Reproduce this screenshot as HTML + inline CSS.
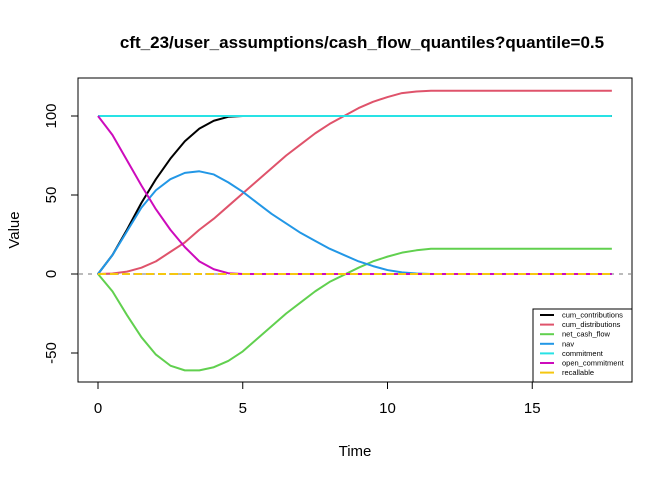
<!DOCTYPE html>
<html><head><meta charset="utf-8"><style>
body{margin:0;background:#fff;font-family:"Liberation Sans",Arial,sans-serif}
</style></head><body>
<svg id="chart" width="672" height="480" xmlns="http://www.w3.org/2000/svg" font-family="Liberation Sans, Arial, sans-serif">
<text x="362" y="48" font-size="17" font-weight="bold" text-anchor="middle">cft_23/user_assumptions/cash_flow_quantiles?quantile=0.5</text>
<rect x="78" y="78" width="554" height="304" fill="none" stroke="#000" stroke-width="1"/>
<g id="axes"></g>
<g id="series"></g>
<text x="355" y="456" font-size="15" text-anchor="middle">Time</text>
<text x="19" y="230" font-size="15" text-anchor="middle" transform="rotate(-90 19 230)">Value</text>
<g id="legend"></g>
</svg>
<script>
const times=[0,0.5,1,1.5,2,2.5,3,3.5,4,4.5,5,5.5,6,6.5,7,7.5,8,8.5,9,9.5,10,10.5,11,11.5,12,12.5,13,13.5,14,14.5,15,15.5,16,16.5,17,17.5,17.75];
const cumContributions=[0,12,28,45,60,73,84,92,97,99.5,100,100,100,100,100,100,100,100,100,100,100,100,100,100,100,100,100,100,100,100,100,100,100,100,100,100,100];
const cumDistributions=[0,0.3,1.5,4,8,14,20,28,35,43,51,59,67,75,82,89,95,100,105,109,112,114.5,115.5,116,116,116,116,116,116,116,116,116,116,116,116,116,116];
const netCashFlow=[0,-11,-26,-40,-51,-58,-61,-61,-59,-55,-49,-41,-33,-25,-18,-11,-5,-0.5,4,8,11,13.5,15,16,16,16,16,16,16,16,16,16,16,16,16,16,16];
const nav=[0,12,27,42,53,60,64,65,63,58,52,45,38,32,26,21,16,12,8,5,2.5,1,0.3,0,0,0,0,0,0,0,0,0,0,0,0,0,0];
const commitment=[100,100,100,100,100,100,100,100,100,100,100,100,100,100,100,100,100,100,100,100,100,100,100,100,100,100,100,100,100,100,100,100,100,100,100,100,100];
const openCommitment=[100,88,72,56,41,28,17,8,3,0.5,0,0,0,0,0,0,0,0,0,0,0,0,0,0,0,0,0,0,0,0,0,0,0,0,0,0,0];
const recallable=[0,0,0,0,0,0,0,0,0,0,0,0,0,0,0,0,0,0,0,0,0,0,0,0,0,0,0,0,0,0,0,0,0,0,0,0,0];
const xTicks=[0,5,10,15];
const yTicks=[-50,0,50,100];
const seriesNames=["cum_contributions","cum_distributions","net_cash_flow","nav","commitment","open_commitment","recallable"];
const seriesColors=["#000000","#DF536B","#61D04F","#2297E6","#28E2E5","#CD0BBC","#F5C710"];
const seriesData=[cumContributions,cumDistributions,netCashFlow,nav,commitment,openCommitment,recallable];

const NS="http://www.w3.org/2000/svg";
const xs=t=>98+t*28.95;
const ys=v=>274-v*1.58;
function mk(tag,attrs,parent){const e=document.createElementNS(NS,tag);for(const k in attrs)e.setAttribute(k,attrs[k]);parent.appendChild(e);return e;}
const axes=document.getElementById('axes');
xTicks.forEach(t=>{
 const l=mk('line',{x1:xs(t),x2:xs(t),y1:382,y2:389,stroke:'#000'},axes);
 
 
 const tx=mk('text',{x:xs(t),y:413,'font-size':15,'text-anchor':'middle'},axes);tx.textContent=t;
 
 
});
yTicks.forEach(v=>{
 const l=mk('line',{x1:71,x2:78,y1:ys(v),y2:ys(v),stroke:'#000'},axes);
 
 
 const tx=mk('text',{x:56,y:ys(v),'font-size':15,'text-anchor':'middle',transform:`rotate(-90 56 ${ys(v)})`},axes);tx.textContent=v;
 
 
});
const zl=mk('line',{x1:79,x2:631,y1:ys(0),y2:ys(0),stroke:'#bbb','stroke-width':2,'stroke-dasharray':'4 5'},axes);


const sg=document.getElementById('series');
seriesData.forEach((arr,i)=>{
 const pts=arr.map((v,j)=>xs(times[j])+','+ys(v)).join(' ');
 const attrs={points:pts,fill:'none',stroke:seriesColors[i],'stroke-width':2,'stroke-linejoin':'round'};
 if(seriesNames[i]==='recallable')attrs['stroke-dasharray']='8 4';
 const p=mk('polyline',attrs,sg);
 
 
});
const lg=document.getElementById('legend');
const lb=mk('rect',{x:533,y:309,width:99,height:73,fill:'#fff',stroke:'#000'},lg);


seriesNames.forEach((n,i)=>{
 const y=315+i*9.6;
 const l=mk('line',{x1:540,x2:554,y1:y,y2:y,stroke:seriesColors[i],'stroke-width':2},lg);
 
 
 const t=mk('text',{x:562,y:y+2.5,'font-size':7.5},lg);t.textContent=n;
 
 
});
</script>
</body></html>
